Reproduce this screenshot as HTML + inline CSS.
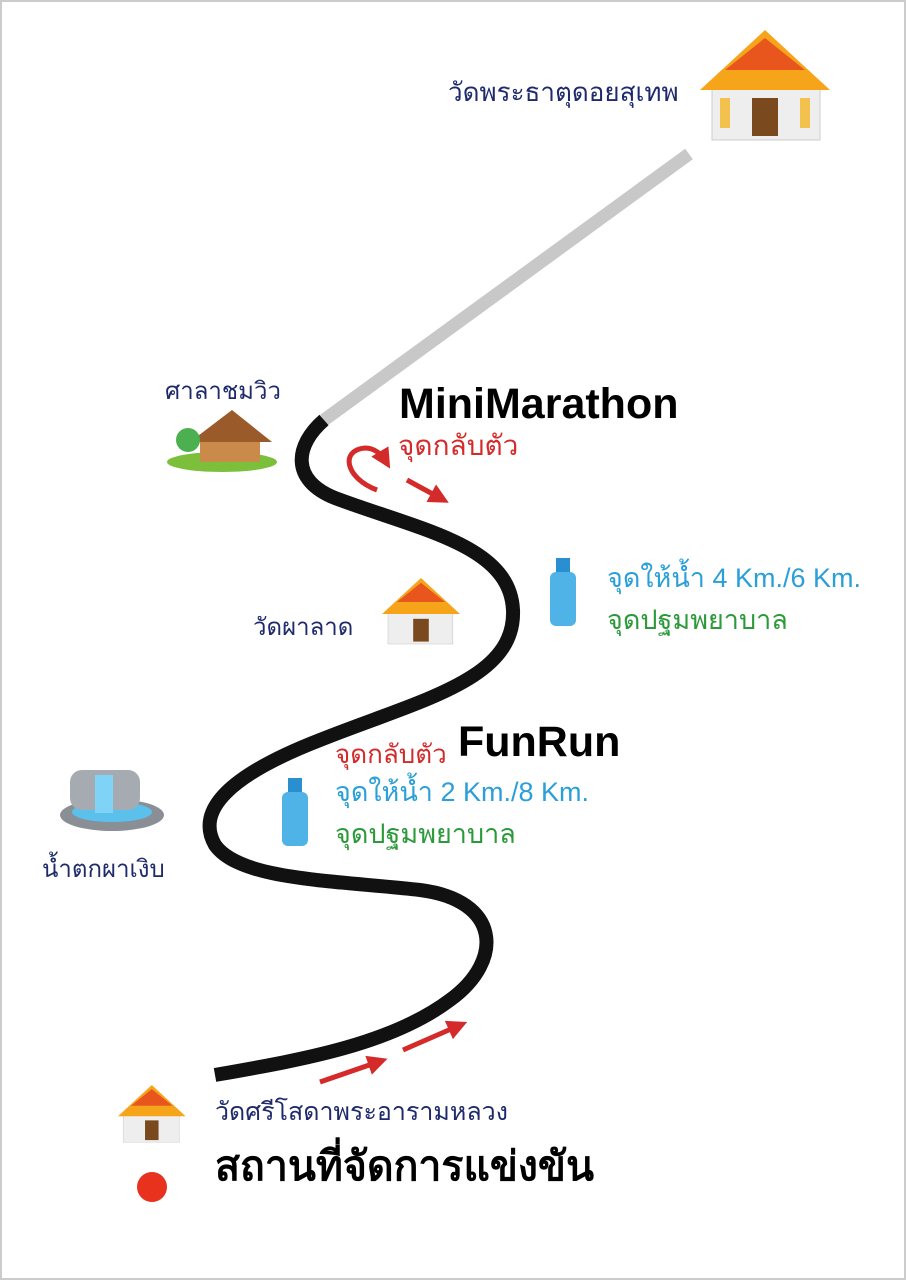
<!DOCTYPE html>
<html><head><meta charset="utf-8"><style>
body{margin:0;width:906px;height:1280px;background:#fff;position:relative;overflow:hidden;font-family:"Liberation Sans","Noto Sans CJK SC",sans-serif}
.t{position:absolute;white-space:nowrap}
</style></head><body>
<svg width="906" height="1280" style="position:absolute;left:0;top:0">
<rect x="1" y="1" width="904" height="1278" fill="none" stroke="#ccc" stroke-width="2"/>
<line x1="689" y1="154" x2="324" y2="420" stroke="#c8c8c8" stroke-width="13"/>
<path d="M324,420 C295,445 290,480 335,498 C420,530 510,545 513,610 C516,680 420,700 320,740 C230,775 195,810 215,845 C240,880 330,880 420,890 C500,900 505,960 450,1000 C390,1045 300,1060 215,1075" fill="none" stroke="#111" stroke-width="14"/>
<defs><marker id="a" markerWidth="4" markerHeight="4" refX="2" refY="2" orient="auto"><path d="M0,0 L4,2 L0,4 z" fill="#d42a2a"/></marker></defs>
<g stroke="#d42a2a" stroke-width="5" fill="none" marker-end="url(#a)">
<path d="M377,490 C345,478 340,450 365,448 C375,448 382,455 385,460"/>
<line x1="407" y1="480" x2="440" y2="498"/>
<line x1="320" y1="1082" x2="378" y2="1062"/>
<line x1="403" y1="1050" x2="458" y2="1026"/>
</g>
<circle cx="152" cy="1187" r="15" fill="#e8321e"/>
<g>
<rect x="712" y="85" width="108" height="55" fill="#eee" stroke="#ccc"/>
<polygon points="700,90 765,30 830,90" fill="#f6a51b"/>
<polygon points="725,70 765,38 805,70" fill="#e8561e"/>
<rect x="752" y="98" width="26" height="38" fill="#7a4a1e"/>
<rect x="720" y="98" width="10" height="30" fill="#f2c14e"/><rect x="800" y="98" width="10" height="30" fill="#f2c14e"/>
</g>
<g transform="translate(382,578) scale(0.6)"><rect x="10" y="55" width="108" height="55" fill="#eee" stroke="#ccc"/><polygon points="0,60 65,0 130,60" fill="#f6a51b"/><polygon points="25,40 65,8 105,40" fill="#e8561e"/><rect x="52" y="68" width="26" height="38" fill="#7a4a1e"/></g>
<g transform="translate(118,1085) scale(0.52)"><rect x="10" y="55" width="108" height="55" fill="#eee" stroke="#ccc"/><polygon points="0,60 65,0 130,60" fill="#f6a51b"/><polygon points="25,40 65,8 105,40" fill="#e8561e"/><rect x="52" y="68" width="26" height="38" fill="#7a4a1e"/></g>
<ellipse cx="222" cy="462" rx="55" ry="10" fill="#7cbf3a"/>
<rect x="200" y="440" width="60" height="22" fill="#c98a4a"/>
<polygon points="190,442 232,410 272,442" fill="#9b5a2a"/>
<circle cx="188" cy="440" r="12" fill="#4caf50"/>
<ellipse cx="112" cy="815" rx="52" ry="16" fill="#8a8f96"/>
<ellipse cx="112" cy="812" rx="40" ry="10" fill="#5bc0eb"/>
<rect x="70" y="770" width="70" height="40" rx="12" fill="#a6abb2"/>
<rect x="95" y="775" width="18" height="38" fill="#7fd3f7"/>
<rect x="550" y="572" width="26" height="54" rx="6" fill="#4fb3e8"/><rect x="556" y="558" width="14" height="14" fill="#2a8fd0"/>
<rect x="282" y="792" width="26" height="54" rx="6" fill="#4fb3e8"/><rect x="288" y="778" width="14" height="14" fill="#2a8fd0"/>
</svg>
<div class="t" style="left:448px;top:72px;font-size:26px;color:#1f2a6b">วัดพระธาตุดอยสุเทพ</div>
<div class="t" style="left:165px;top:371px;font-size:24px;color:#1f2a6b">ศาลาชมวิว</div>
<div class="t" style="left:399px;top:380px;font-size:43px;font-weight:bold;color:#000">MiniMarathon</div>
<div class="t" style="left:398px;top:424px;font-size:28px;color:#d42a2a">จุดกลับตัว</div>
<div class="t" style="left:607px;top:556px;font-size:27px;color:#2a9fd8">จุดให้น้ำ 4 Km./6 Km.</div>
<div class="t" style="left:607px;top:598px;font-size:27px;color:#2c9a3a">จุดปฐมพยาบาล</div>
<div class="t" style="left:253px;top:607px;font-size:24px;color:#1f2a6b">วัดผาลาด</div>
<div class="t" style="left:335px;top:734px;font-size:26px;color:#d42a2a">จุดกลับตัว</div>
<div class="t" style="left:458px;top:718px;font-size:43px;font-weight:bold;color:#000">FunRun</div>
<div class="t" style="left:335px;top:770px;font-size:27px;color:#2a9fd8">จุดให้น้ำ 2 Km./8 Km.</div>
<div class="t" style="left:335px;top:812px;font-size:27px;color:#2c9a3a">จุดปฐมพยาบาล</div>
<div class="t" style="left:42px;top:849px;font-size:24px;color:#1f2a6b">น้ำตกผาเงิบ</div>
<div class="t" style="left:215px;top:1092px;font-size:25px;color:#1f2a6b">วัดศรีโสดาพระอารามหลวง</div>
<div class="t" style="left:215px;top:1134px;font-size:41px;font-weight:bold;color:#000">สถานที่จัดการแข่งขัน</div>
</body></html>
